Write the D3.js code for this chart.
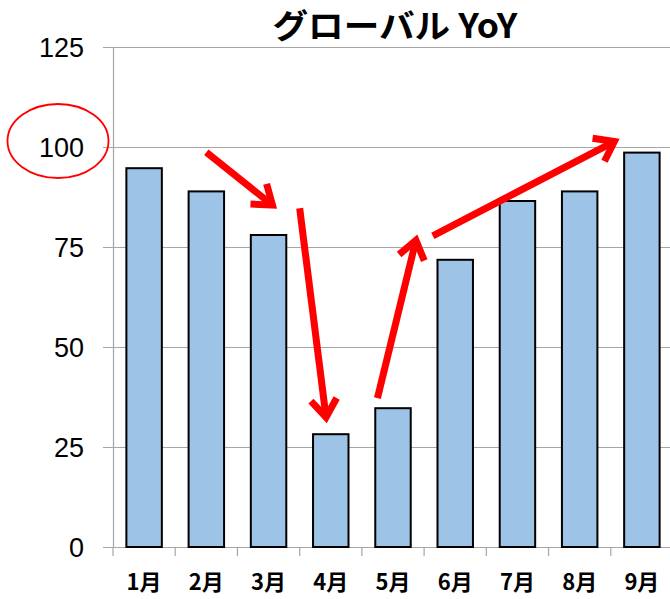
<!DOCTYPE html>
<html>
<head>
<meta charset="utf-8">
<script src="https://cdn.jsdelivr.net/npm/d3@7"></script>
<style>
  body { margin: 0; background: #fff; }
  svg { display: block; }
</style>
</head>
<body>
<div id="chart"></div>
<script>
const width = 670;
const height = 599;

// data
const months = ["1月", "2月", "3月", "4月", "5月", "6月", "7月", "8月", "9月"];
const values = [94.7, 88.9, 78, 28.2, 34.7, 71.8, 86.5, 88.9, 98.6];
const yTicks = [0, 25, 50, 75, 100, 125];
const title = "グローバル YoY";

// annotation arrows: [from month, offset in band, value] -> [to month, offset, value]
const arrows = [
  { from: ["2月", 0.5, 98.7], to: ["3月", 0.6, 85] },
  { from: ["4月", 0.0, 84.7], to: ["4月", 0.43, 31.7] },
  { from: ["5月", 0.25, 37.2], to: ["5月", 0.88, 77.4] },
  { from: ["6月", 0.14, 77.8], to: ["9月", 0.1, 101.7] }
];

const margin = { top: 47, right: -3, bottom: 52, left: 113 };

const x = d3.scaleBand()
  .domain(months)
  .range([margin.left, width - margin.right])
  .padding(0);

const y = d3.scaleLinear()
  .domain([0, 125])
  .range([height - margin.bottom, margin.top]);

const barW = x.bandwidth() * 0.57;

const svg = d3.select("#chart").append("svg")
  .attr("width", width)
  .attr("height", height);

// gridlines + y ticks
svg.append("g")
  .selectAll("line")
  .data(yTicks)
  .join("line")
  .attr("x1", margin.left - 10)
  .attr("x2", width - margin.right)
  .attr("y1", d => Math.round(y(d)) + 0.5)
  .attr("y2", d => Math.round(y(d)) + 0.5)
  .attr("stroke", "#a6a6a6")
  .attr("stroke-width", 1.2);

// y axis line
svg.append("line")
  .attr("x1", margin.left + 0.5).attr("x2", margin.left + 0.5)
  .attr("y1", y(125)).attr("y2", y(0))
  .attr("stroke", "#a6a6a6")
  .attr("stroke-width", 1.2);

// x ticks at category boundaries
svg.append("g")
  .selectAll("line")
  .data(months.concat(["end"]))
  .join("line")
  .attr("x1", (d, i) => x.range()[0] + i * x.step())
  .attr("x2", (d, i) => x.range()[0] + i * x.step())
  .attr("y1", y(0))
  .attr("y2", y(0) + 9)
  .attr("stroke", "#a6a6a6")
  .attr("stroke-width", 1.2);

// y labels
svg.append("g")
  .selectAll("text")
  .data(yTicks)
  .join("text")
  .attr("x", 84)
  .attr("y", d => y(d) + 10)
  .attr("text-anchor", "end")
  .attr("font-family", "Liberation Sans, Arial, sans-serif")
  .attr("font-size", 27)
  .attr("fill", "#000")
  .text(d => d);

// bars
svg.append("g")
  .selectAll("rect")
  .data(values)
  .join("rect")
  .attr("x", (d, i) => x(months[i]) + (x.bandwidth() - barW) / 2)
  .attr("y", d => y(d))
  .attr("width", barW)
  .attr("height", d => y(0) - y(d))
  .attr("fill", "#9dc3e6")
  .attr("stroke", "#000")
  .attr("stroke-width", 2);

// month labels
svg.append("g")
  .selectAll("text")
  .data(months)
  .join("text")
  .attr("x", d => x(d) + x.bandwidth() / 2)
  .attr("y", 590)
  .attr("text-anchor", "middle")
  .attr("font-family", "Noto Sans CJK JP, sans-serif")
  .attr("font-weight", "bold")
  .attr("font-size", 22)
  .attr("fill", "#000")
  .text(d => d);

// title
svg.append("text")
  .attr("x", 395)
  .attr("y", 38)
  .attr("text-anchor", "middle")
  .attr("font-family", "Noto Sans CJK JP, sans-serif")
  .attr("font-weight", "bold")
  .attr("font-size", 33)
  .attr("textLength", 245)
  .attr("lengthAdjust", "spacingAndGlyphs")
  .attr("fill", "#000")
  .text(title);

// red ellipse around 100 label
svg.append("ellipse")
  .attr("cx", 58)
  .attr("cy", y(100) - 6)
  .attr("rx", 50.5)
  .attr("ry", 37)
  .attr("fill", "none")
  .attr("stroke", "#f00")
  .attr("stroke-width", 1.8);

// arrows
const px = p => [x(p[0]) + p[1] * x.bandwidth(), y(p[2])];
const arrowG = svg.append("g")
  .attr("stroke", "#ff0000")
  .attr("stroke-width", 7)
  .attr("fill", "none")
  .attr("stroke-linecap", "butt");

arrows.forEach(a => {
  const [x1, y1] = px(a.from);
  const [x2, y2] = px(a.to);
  const ang = Math.atan2(y2 - y1, x2 - x1);
  const head = 22, spread = Math.PI / 5;
  const tx = x2 - 3 * Math.cos(ang), ty = y2 - 3 * Math.sin(ang);
  arrowG.append("line")
    .attr("x1", x1).attr("y1", y1)
    .attr("x2", tx).attr("y2", ty);
  arrowG.append("path")
    .attr("stroke-linejoin", "miter")
    .attr("d", d3.line()([
      [tx - head * Math.cos(ang - spread), ty - head * Math.sin(ang - spread)],
      [tx, ty],
      [tx - head * Math.cos(ang + spread), ty - head * Math.sin(ang + spread)]
    ]));
});
</script>
</body>
</html>
